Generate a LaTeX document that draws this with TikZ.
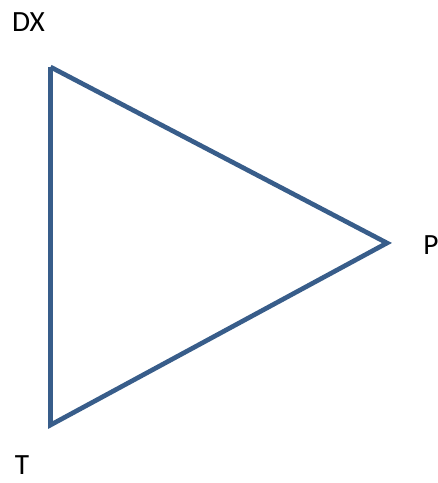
\documentclass[tikz,border=0pt]{standalone}
\usepackage{fontspec}
\setmainfont{Carlito}
\usepackage{tikz}
\definecolor{edgeblue}{HTML}{385D8A}

\begin{document}
\begin{tikzpicture}[
    x=0.75pt, y=-0.75pt,
    edge/.style={draw=edgeblue, line width=3.5pt},
    lbl/.style={font=\fontsize{22}{26}\selectfont, inner sep=0pt}
]
    \useasboundingbox (0,0) rectangle (438,483);

    % Corners
    \coordinate (dx) at (50.5,67);
    \coordinate (p) at (387,243);
    \coordinate (t) at (50.5,425);

    % Labels
    \node[lbl] (dxlabel) at (28.5,22.5) {DX};
    \node[lbl] (plabel) at (431,245) {P};
    \node[lbl] (tlabel) at (22,465) {T};

    % Triangle
    \draw[edge] (dx) -- (p) -- (t) -- (dx);
\end{tikzpicture}
\end{document}
